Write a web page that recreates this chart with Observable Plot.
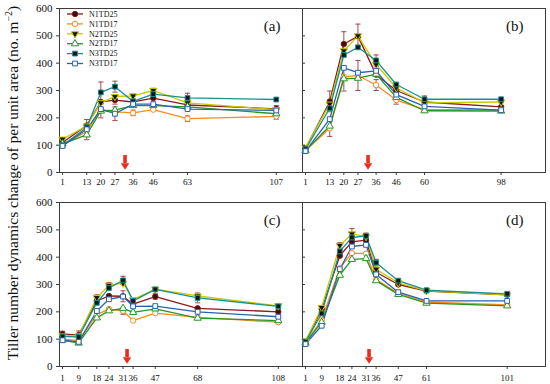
<!DOCTYPE html>
<html><head><meta charset="utf-8">
<script src="https://cdn.jsdelivr.net/npm/d3@7"></script>
<script src="https://cdn.jsdelivr.net/npm/@observablehq/plot@0.6"></script>
<style>
html,body{margin:0;padding:0;background:#fff;}
#wrap{position:relative;width:550px;height:384px;overflow:hidden;font-family:"Liberation Serif","Times New Roman",serif;}
#wrap > svg{position:absolute;}
</style></head><body><div id="wrap"></div>
<script>
// ---------- data ----------
const series = ["N1TD25","N1TD17","N2TD25","N2TD17","N3TD25","N3TD17"];
const yTicks = [0,100,200,300,400,500,600];

const daysA = [1,13,20,27,36,46,63,107];
const valuesA = [
  [110,172,258,265,258,272,247,233],
  [100,150,230,222,218,230,197,205],
  [122,170,255,278,280,300,255,230],
  [105,138,225,228,245,245,240,215],
  [100,165,293,314,260,287,273,267],
  [ 97,158,232,215,250,250,232,227]
];
const errorsA = [[0,13,22],[3,13,18],[4,20,38],[3,20,25],[4,27,20],[5,27,25],[0,27,15],[0,36,12],[1,36,10],[2,46,8],[4,63,17],[1,63,10],[0,107,12],[1,107,10]];

const daysB = [1,13,20,27,36,46,60,98];
const valuesB = [
  [ 88,260,470,498,358,300,258,240],
  [ 80,162,350,355,320,265,230,230],
  [ 92,250,445,500,395,310,255,258],
  [ 80,170,343,345,360,275,226,225],
  [ 85,235,430,458,410,322,268,268],
  [ 78,195,383,365,372,285,242,228]
];
const errorsB = [[0,13,38],[1,13,30],[0,20,45],[3,20,45],[0,27,45],[1,27,55],[4,36,20],[1,36,20],[0,46,15],[1,46,15],[4,60,12],[0,98,15]];

const daysC = [1,9,18,24,31,36,47,68,108];
const valuesC = [
  [119,115,240,258,257,228,256,213,200],
  [100, 95,190,210,203,168,195,180,162],
  [112,112,252,297,305,245,283,258,222],
  [ 97, 86,178,204,213,198,211,177,168],
  [110,108,233,287,315,240,282,251,220],
  [ 96, 90,203,246,256,220,221,200,182]
];
const errorsC = [[0,1,10],[0,9,15],[2,18,10],[2,24,10],[4,31,15],[0,31,20],[1,31,12],[4,36,10],[0,47,10],[4,68,18],[0,108,8]];

const daysD = [1,9,18,24,31,36,47,61,101];
const valuesD = [
  [ 90,210,405,456,462,345,300,276,262],
  [ 88,170,360,415,413,318,268,236,225],
  [ 92,216,443,485,475,356,306,277,262],
  [ 86,162,334,392,395,314,264,232,222],
  [ 90,194,421,472,478,380,314,279,266],
  [ 82,149,356,439,445,337,272,240,240]
];
const errorsD = [[0,9,10],[2,18,10],[2,24,20],[0,31,20],[4,31,10],[4,36,12],[0,36,10]];

const panelLabels = ["(a)","(b)","(c)","(d)"];
const arrowDays = [32, 32, 33, 32.5];
const arrowShaft = [62, 33];   // y values of the arrow shaft (top, bottom)
const arrowHeadY = 23;

// ---------- styles ----------
const LINE = ["#8b1a1a","#ff8a1e","#c9c900","#239623","#18908f","#2a62b0"];
const FILL = ["#3a0c0c","#ffffff","#161600","#ffffff","#0d1414","#ffffff"];
const ERR = "#a54a4f";
const RED = "#ee2a1c";
const triDown = {draw(ctx, size){ const y = -Math.sqrt(size/(Math.sqrt(3)*3)); ctx.moveTo(0,-2*y); ctx.lineTo(-Math.sqrt(3)*y, y); ctx.lineTo(Math.sqrt(3)*y, y); ctx.closePath(); }};
const SYM = ["circle","circle",triDown,"triangle","square","square"];
const cap = {draw(ctx){ ctx.moveTo(-2.6,0); ctx.lineTo(2.6,0); }};
const head = {draw(ctx){ ctx.moveTo(-4.2,-3); ctx.lineTo(4.2,-3); ctx.lineTo(0,3.6); ctx.closePath(); }};
const R = 2.7;

function panel({days, values, errors, arrowDay, label, showY, left, top, width, mL, mR, tickPad}) {
  const rows = [];
  series.forEach((s, i) => values[i].forEach((v, j) => rows.push({s, i, day: days[j], v})));
  const errRows = errors.map(([i, day, e]) => { const v = values[i][days.indexOf(day)]; return {i, day, lo: v - e, hi: v + e}; });
  const marks = [
    Plot.frame({stroke: "#3c3c3c", strokeWidth: 1}),
    Plot.ruleX([arrowDay], {x: d => d, y1: arrowShaft[0], y2: arrowShaft[1], stroke: RED, strokeWidth: 3.6}),
    Plot.dot([arrowDay], {x: d => d, y: arrowHeadY, symbol: head, r: 3, fill: RED, stroke: "none"}),
  ];
  series.forEach((s, i) => {
    marks.push(Plot.line(rows.filter(d => d.i === i), {x: "day", y: "v", stroke: LINE[i], strokeWidth: 1.3}));
  });
  marks.push(Plot.ruleX(errRows, {x: "day", y1: "lo", y2: "hi", stroke: ERR, strokeWidth: 1}));
  marks.push(Plot.dot(errRows, {x: "day", y: "lo", symbol: cap, r: 2, fill: "none", stroke: ERR, strokeWidth: 1}));
  marks.push(Plot.dot(errRows, {x: "day", y: "hi", symbol: cap, r: 2, fill: "none", stroke: ERR, strokeWidth: 1}));
  series.forEach((s, i) => {
    marks.push(Plot.dot(rows.filter(d => d.i === i), {x: "day", y: "v", symbol: SYM[i], r: R, fill: FILL[i], stroke: LINE[i], strokeWidth: 1}));
  });
  marks.push(Plot.text([label], {text: d => d, frameAnchor: "top-right", dx: -22, dy: 12, fontSize: 15, fill: "#111"}));
  marks.push(Plot.axisX(days, {tickSize: 3, tickPadding: tickPad, fontSize: 9, label: null, stroke: "#3c3c3c", fill: "#111"}));
  if (showY) marks.push(Plot.axisY(yTicks, {tickSize: 3, tickPadding: 4, fontSize: 11, label: null, stroke: "#3c3c3c", fill: "#111"}));
  else marks.push(Plot.axisY(yTicks, {tickSize: 3, dx: 3, tickFormat: () => "", label: null, stroke: "#3c3c3c"}));
  const svg = Plot.plot({
    width, height: 195,
    marginLeft: mL, marginRight: mR, marginTop: 8, marginBottom: 23,
    x: {domain: [-0.5, 120]},
    y: {domain: [0, 600]},
    style: {background: "transparent", fontFamily: "'Liberation Serif','Times New Roman',serif", overflow: "visible"},
    marks
  });
  svg.style.left = left + "px";
  svg.style.top = top + "px";
  svg.style.maxWidth = "none";
  document.getElementById("wrap").appendChild(svg);
}

panel({days: daysA, values: valuesA, errors: errorsA, arrowDay: arrowDays[0], label: panelLabels[0], showY: true, left: 0, top: 0, width: 305, mL: 59, mR: 3, tickPad: 3});
panel({days: daysB, values: valuesB, errors: errorsB, arrowDay: arrowDays[1], label: panelLabels[1], showY: false, left: 299, top: 0, width: 249, mL: 3, mR: 3, tickPad: 3});
panel({days: daysC, values: valuesC, errors: errorsC, arrowDay: arrowDays[2], label: panelLabels[2], showY: true, left: 0, top: 194, width: 305, mL: 59, mR: 3, tickPad: 5});
panel({days: daysD, values: valuesD, errors: errorsD, arrowDay: arrowDays[3], label: panelLabels[3], showY: false, left: 299, top: 194, width: 249, mL: 3, mR: 3, tickPad: 5});

// ---------- legend + y title overlay ----------
const ov = d3.select("#wrap").append("svg").attr("width", 550).attr("height", 384).style("left","0px").style("top","0px").style("pointer-events","none");
const lg = ov.append("g").attr("font-family", "'Liberation Serif','Times New Roman',serif").attr("font-size", 8);
series.forEach((s, i) => {
  const y = 14 + i * 9.9;
  lg.append("line").attr("x1", 67).attr("x2", 83).attr("y1", y).attr("y2", y).attr("stroke", LINE[i]).attr("stroke-width", 1.3);
  lg.append("path").attr("transform", `translate(75,${y})`)
    .attr("d", d3.symbol().type(typeof SYM[i] === "string" ? {circle: d3.symbolCircle, triangle: d3.symbolTriangle, square: d3.symbolSquare}[SYM[i]] : SYM[i]).size(Math.PI * R * R)())
    .attr("fill", FILL[i]).attr("stroke", LINE[i]).attr("stroke-width", 1);
  lg.append("text").attr("x", 89).attr("y", y).attr("dy", "0.34em").attr("fill", "#111").text(s);
});
const t = ov.append("text").attr("transform", "translate(18,183) rotate(-90)").attr("text-anchor", "middle")
  .attr("font-family", "'Liberation Serif','Times New Roman',serif").attr("font-size", 15.5).attr("fill", "#111");
t.append("tspan").text("Tiller number dynamics change of per unit area (no. m");
t.append("tspan").attr("font-size", 10).attr("dy", -6).text("\u22122");
t.append("tspan").attr("dy", 6).text(")");
</script>
</body></html>
